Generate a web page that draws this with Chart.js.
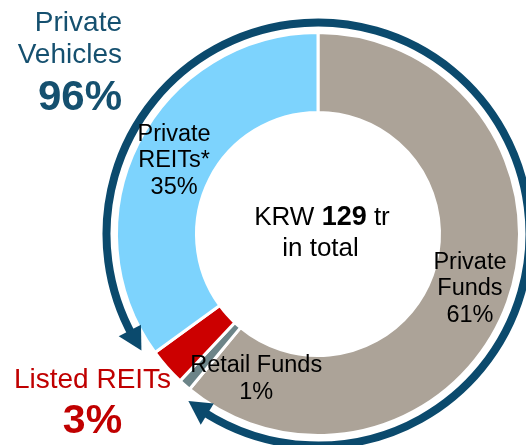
<!DOCTYPE html>
<html><head><meta charset="utf-8">
<script src="https://cdn.jsdelivr.net/npm/chart.js@4/dist/chart.umd.min.js"></script>
<style>html,body{margin:0;padding:0;background:#fff;overflow:hidden}#wrap{position:relative;width:526px;height:445px}</style>
</head><body><div id="wrap"><canvas id="c" width="526" height="445"></canvas></div>
<script>
// ---- data ----
const categories = ['Private Funds', 'Retail Funds', 'Listed REITs', 'Private REITs*'];
const shares = [61, 1, 3, 35];
const segmentLabelLines = [['Private', 'Funds', '61%'], ['Retail Funds', '1%'], null, ['Private', 'REITs*', '35%']];
const totalAmount = 129;            // KRW trillion
const privateVehiclesShare = 96;    // %
const listedReitsShare = 3;         // %

// ---- styles ----
const segmentColors = ['#aca398', '#6c8488', '#cc0000', '#7dd3fd'];
const NAVY = '#0b4a6d';
const NAVY_TEXT = '#15506f';
const RED_TEXT = '#c00000';
const FONT = '"Liberation Sans", Arial, Helvetica, sans-serif';

const ringPlugin = {
  id: 'ring',
  afterDatasetsDraw(chart) {
    const ctx = chart.ctx;
    const arcs = chart.getDatasetMeta(0).data;
    const pf = arcs[0], pr = arcs[3];
    const cx = pf.x, cy = pf.y;
    const R = pf.outerRadius + 10;
    const deg = Math.PI / 180;
    const tipA = pr.startAngle + 2.6 * deg;
    const tipB = pf.endAngle - 1.8 * deg;
    const headLen = 23, headW = 25;
    const h = headLen / R;
    ctx.save();
    ctx.strokeStyle = NAVY;
    ctx.lineWidth = 8;
    ctx.beginPath();
    ctx.arc(cx, cy, R, tipA + h * 0.7, tipB + 2 * Math.PI - h * 0.7, false);
    ctx.stroke();
    ctx.fillStyle = NAVY;
    function head(tip, base) {
      const tx = cx + R * Math.cos(tip), ty = cy + R * Math.sin(tip);
      const bx = Math.cos(base), by = Math.sin(base);
      ctx.beginPath();
      ctx.moveTo(tx, ty);
      ctx.lineTo(cx + (R + headW / 2) * bx, cy + (R + headW / 2) * by);
      ctx.lineTo(cx + (R - headW / 2) * bx, cy + (R - headW / 2) * by);
      ctx.closePath();
      ctx.fill();
    }
    head(tipA, tipA + h);
    head(tipB, tipB - h);
    ctx.restore();
  }
};

const labelPlugin = {
  id: 'labels',
  afterDraw(chart) {
    const ctx = chart.ctx;
    const arcs = chart.getDatasetMeta(0).data;
    const cx = arcs[0].x, cy = arcs[0].y;
    ctx.save();
    ctx.textBaseline = 'middle';
    ctx.textAlign = 'center';
    ctx.fillStyle = '#000';
    ctx.font = '23.5px ' + FONT;
    const lh = 26.5;
    segmentLabelLines.forEach((lines, i) => {
      if (!lines) return;
      const p = arcs[i].getCenterPoint();
      let x = p.x, y = p.y;
      if (i === 1) { x += 45; y += 24; }
      const n = lines.length;
      lines.forEach((t, k) => ctx.fillText(t, x, y + (k - (n - 1) / 2) * lh));
    });

    // centre text
    ctx.textBaseline = 'alphabetic';
    ctx.textAlign = 'left';
    const fN = '26px ' + FONT, fB = 'bold 27px ' + FONT;
    const p1 = 'KRW ', p2 = String(totalAmount), p3 = ' tr';
    ctx.font = fN; const w1 = ctx.measureText(p1).width, w3 = ctx.measureText(p3).width;
    ctx.font = fB; const w2 = ctx.measureText(p2).width;
    let x0 = cx + 4 - (w1 + w2 + w3) / 2;
    const yb = cy - 9.5;
    ctx.font = fN; ctx.fillText(p1, x0, yb);
    ctx.font = fB; ctx.fillText(p2, x0 + w1, yb);
    ctx.font = fN; ctx.fillText(p3, x0 + w1 + w2, yb);
    ctx.textAlign = 'center';
    ctx.fillText('in total', cx + 2.5, cy + 21.5);

    // outside annotations
    ctx.textAlign = 'right';
    ctx.fillStyle = NAVY_TEXT;
    ctx.font = '28px ' + FONT;
    ctx.fillText('Private', 122, 30.7);
    ctx.fillText('Vehicles', 122, 63.3);
    ctx.font = 'bold 42px ' + FONT;
    ctx.fillText(privateVehiclesShare + '%', 122, 110);

    ctx.textAlign = 'center';
    ctx.fillStyle = RED_TEXT;
    ctx.font = '28px ' + FONT;
    ctx.fillText('Listed REITs', 92.5, 388.3);
    ctx.font = 'bold 41px ' + FONT;
    ctx.fillText(listedReitsShare + '%', 92.5, 433);
    ctx.restore();
  }
};

new Chart(document.getElementById('c'), {
  type: 'doughnut',
  data: {
    labels: categories,
    datasets: [{
      data: shares,
      backgroundColor: segmentColors,
      borderColor: '#ffffff',
      borderWidth: 3,
      hoverOffset: 0
    }]
  },
  options: {
    responsive: false,
    animation: false,
    cutout: '60.3%',
    layout: { padding: { top: 31, bottom: 8, left: 115, right: 5 } },
    plugins: { legend: { display: false }, tooltip: { enabled: false }, title: { display: false } },
    events: []
  },
  plugins: [ringPlugin, labelPlugin]
});
</script>
</body></html>
